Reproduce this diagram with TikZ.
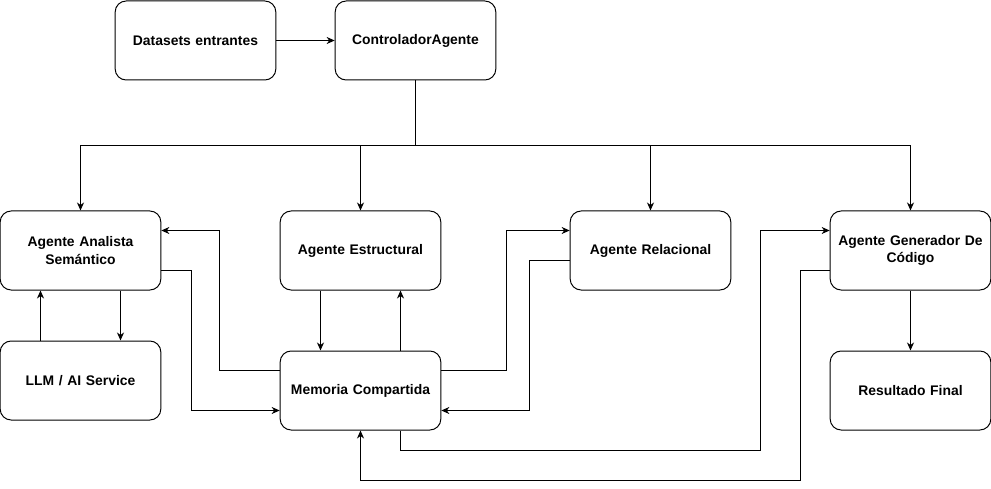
\documentclass[tikz,border=0pt]{standalone}
\usepackage{fontspec}
\setmainfont{Liberation Sans}
\usetikzlibrary{arrows.meta}
\begin{document}
\begin{tikzpicture}[x=1pt,y=-1pt,
  box/.style={draw, line width=1pt, rounded corners=11pt, minimum width=159pt, minimum height=79pt,
    align=center, text width=154pt, font=\fontsize{13.9}{17.5}\selectfont\bfseries, fill=white},
  conn/.style={line width=1pt},
  arr/.style={line width=1pt, -{Stealth[length=8pt,width=7pt,inset=2.5pt]}}]
\useasboundingbox (0,0) rectangle (991,489);
\node[box] (ds)   at (195.5,40.5) {Datasets entrantes};
\node[box] (ctrl) at (415.5,40.5) {ControladorAgente};
\node[box] (ana)  at (80.5,250.5) {Agente Analista\\Semántico};
\node[box] (est)  at (360.5,250.5) {Agente Estructural};
\node[box] (rel)  at (650.5,250.5) {Agente Relacional};
\node[box] (gen)  at (910.5,250.5) {Agente Generador De\\Código};
\node[box] (llm)  at (80.5,380.5) {LLM / AI Service};
\node[box] (mem)  at (360.5,390.5) {Memoria Compartida};
\node[box] (res)  at (910.5,390.5) {Resultado Final};
\coordinate (bus) at (0,145.5);
\draw[arr] (ds) -- (ctrl);
\draw[conn] (ctrl.south) -- (ctrl.south |- bus);
\draw[conn] (ana.north |- bus) -- (gen.north |- bus);
\draw[arr] (ana.north |- bus) -- (ana.north);
\draw[arr] (est.north |- bus) -- (est.north);
\draw[arr] (rel.north |- bus) -- (rel.north);
\draw[arr] (gen.north |- bus) -- (gen.north);
\draw[arr] ([xshift=40pt]ana.south) -- ([xshift=40pt]llm.north);
\draw[arr] ([xshift=-40pt]llm.north) -- ([xshift=-40pt]ana.south);
\draw[arr] ([yshift=-20pt]ana.east) -- ++(30,0) |- ([yshift=-20pt]mem.west);
\draw[arr] ([yshift=20pt]mem.west) -- ++(-60,0) |- ([yshift=20pt]ana.east);
\draw[arr] ([xshift=-40pt]est.south) -- ([xshift=-40pt]mem.north);
\draw[arr] ([xshift=40pt]mem.north) -- ([xshift=40pt]est.south);
\draw[arr] ([yshift=20pt]mem.east) -- ++(65,0) |- ([yshift=20pt]rel.west);
\draw[arr] ([yshift=-10pt]rel.west) -- ++(-40,0) |- ([yshift=-20pt]mem.east);
\draw[arr] ([xshift=40pt]mem.south) |- (760.5,450.5) |- ([yshift=20pt]gen.west);
\draw[arr] ([yshift=-20pt]gen.west) -| (800.5,480.5) -| (mem.south);
\draw[arr] (gen) -- (res);
\end{tikzpicture}
\end{document}
